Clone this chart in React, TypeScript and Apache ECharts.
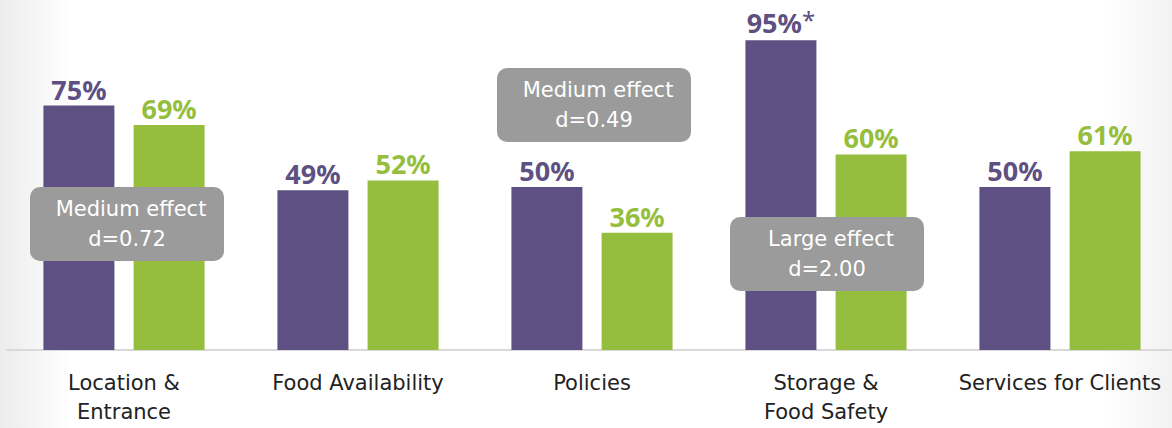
import React, { useEffect, useRef } from "react";
import * as echarts from "echarts";

const categories = ["Location &\nEntrance", "Food Availability", "Policies", "Storage &\nFood Safety", "Services for Clients"];
const purpleValues = [75, 49, 50, 95, 50];
const greenValues = [69, 52, 36, 60, 61];
const purpleLabels = ["75%", "49%", "50%", "95%{a|*}", "50%"];
const greenLabels = ["69%", "52%", "36%", "60%", "61%"];
const effectNotes = [
  { title: "Medium effect", d: "d=0.72", x: 30, y: 187 },
  { title: "Medium effect", d: "d=0.49", x: 497, y: 68 },
  { title: "Large effect", d: "d=2.00", x: 730, y: 217 },
];

const PURPLE = "#5E5082";
const GREEN = "#96BE3E";
const FONT = "'Noto Sans', 'DejaVu Sans', sans-serif";
const WIDE = "'DejaVu Sans', sans-serif";

export default function App() {
  const ref = useRef<HTMLDivElement>(null);
  useEffect(() => {
    if (!ref.current) return;
    const chart = echarts.init(ref.current, null, { renderer: "svg" });
    const boxW = 194;
    const boxH = 74;
    const graphics: any[] = [];
    effectNotes.forEach((n) => {
      graphics.push({
        type: "group",
        left: n.x,
        top: n.y,
        z: 100,
        children: [
          { type: "rect", z: 100, shape: { x: 0, y: 0, width: boxW, height: boxH, r: 10 }, style: { fill: "#9B9B9B" } },
          { type: "text", z: 101, x: boxW / 2 + 4, y: 22, style: { text: n.title, fill: "#FFFFFF", font: `21px ${WIDE}`, align: "center", verticalAlign: "middle" } },
          { type: "text", z: 101, x: boxW / 2, y: 52, style: { text: n.d, fill: "#FFFFFF", font: `21px ${WIDE}`, align: "center", verticalAlign: "middle" } },
        ],
      });
    });
    chart.setOption({
      animation: false,
      backgroundColor: {
        type: "linear", x: 0, y: 0, x2: 1, y2: 0,
        colorStops: [
          { offset: 0, color: "#ECECEC" },
          { offset: 0.06, color: "#FFFFFF" },
          { offset: 0.93, color: "#FFFFFF" },
          { offset: 1, color: "#EFEFEF" },
        ],
      },
      textStyle: { fontFamily: FONT },
      grid: { left: 7, top: 24, width: 1170, height: 326 },
      xAxis: {
        type: "category",
        data: categories,
        axisTick: { show: false },
        axisLine: { lineStyle: { color: "#D9D9D9", width: 2 } },
        axisLabel: { interval: 0, fontSize: 21, color: "#222222", lineHeight: 29, margin: 18, fontFamily: WIDE },
      },
      yAxis: { type: "value", min: 0, max: 100, show: false, splitLine: { show: false } },
      series: [
        {
          type: "bar",
          data: purpleValues,
          barWidth: 71,
          barGap: "27%",
          itemStyle: { color: PURPLE },
          label: {
            show: true, position: "top", distance: 3,
            formatter: (p: any) => purpleLabels[p.dataIndex],
            color: PURPLE, fontSize: 27, fontWeight: "bold", fontFamily: FONT,
            rich: { a: { color: PURPLE, fontSize: 24, fontWeight: "normal", fontFamily: FONT, verticalAlign: "top", padding: [0, 0, 6, 0] } },
          },
        },
        {
          type: "bar",
          data: greenValues,
          barWidth: 71,
          barGap: "27%",
          itemStyle: { color: GREEN },
          label: {
            show: true, position: "top", distance: 3,
            formatter: (p: any) => greenLabels[p.dataIndex],
            color: GREEN, fontSize: 27, fontWeight: "bold", fontFamily: FONT,
          },
        },
      ],
      graphic: graphics,
    });
    return () => chart.dispose();
  }, []);
  return (
    <div style={{ position: "fixed", left: 0, top: 0, width: 1172, height: 428, overflow: "hidden" }}>
      <div ref={ref} style={{ width: 1184, height: 428 }} />
    </div>
  );
}
